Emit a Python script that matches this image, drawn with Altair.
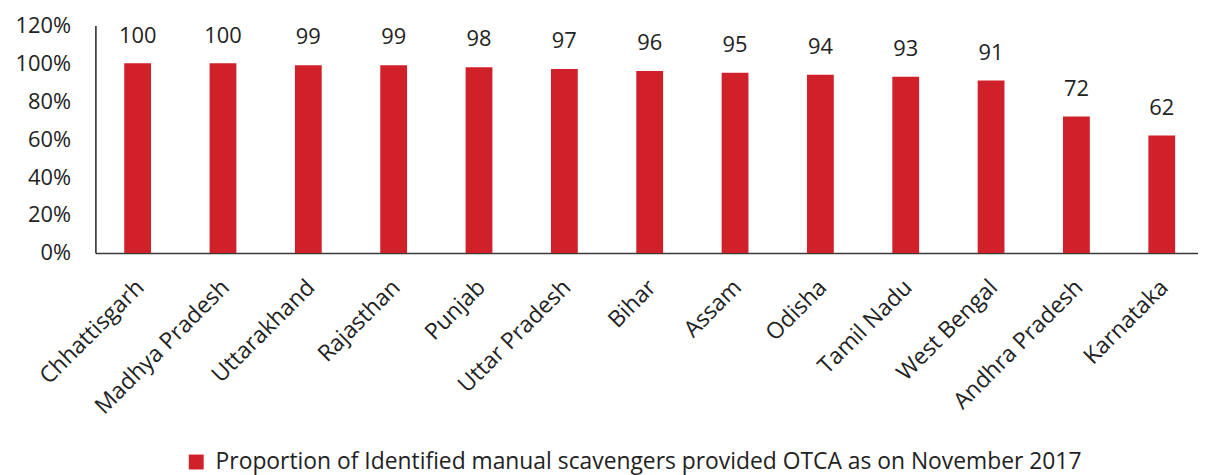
import altair as alt
import pandas as pd

states = ["Chhattisgarh", "Madhya Pradesh", "Uttarakhand", "Rajasthan", "Punjab",
          "Uttar Pradesh", "Bihar", "Assam", "Odisha", "Tamil Nadu", "West Bengal",
          "Andhra Pradesh", "Karnataka"]
values = [100, 100, 99, 99, 98, 97, 96, 95, 94, 93, 91, 72, 62]
series_name = "Proportion of Identified manual scavengers provided OTCA as on November 2017"

df = pd.DataFrame({"state": states, "value": [v / 100 for v in values], "label": [str(v) for v in values],
                   "series": series_name})

FONT = "Open Sans"
RED = "#D02029"

x = alt.X("state:N", sort=states, title=None,
          scale=alt.Scale(paddingInner=0.686, paddingOuter=0.3027, align=0.558),
          axis=alt.Axis(labelAngle=-45, labelAlign="right", labelBaseline="top", labelPadding=23,
                        labelOffset=-5, ticks=False, labelFontSize=23, labelColor="#222222",
                        labelFont=FONT, domainColor="#3a3a3a", domainWidth=1.5, grid=False,
                        labelLimit=0, labelOverlap=False))
y = alt.Y("value:Q", title=None,
          scale=alt.Scale(domain=[0, 1.2], nice=False),
          axis=alt.Axis(format=".0%", values=[0, 0.2, 0.4, 0.6, 0.8, 1.0, 1.2], ticks=False,
                        labelPadding=25, labelFontSize=22, labelColor="#222222", labelFont=FONT,
                        domainColor="#222222", domainWidth=1.5, grid=False, labelOverlap=False))

base = alt.Chart(df).encode(x=x, y=y)

bars = base.mark_bar().encode(
    color=alt.Color("series:N", scale=alt.Scale(domain=[series_name], range=[RED]),
                    legend=alt.Legend(title=None, orient="none", legendX=90, legendY=428,
                                      symbolType="square", symbolSize=225, symbolStrokeWidth=0,
                                      labelFontSize=23, labelFont=FONT, labelColor="#222222",
                                      labelLimit=0, symbolOpacity=1, labelOffset=8))
)

text = base.mark_text(dy=-28, fontSize=22, font=FONT, color="#222222").encode(text="label:N")

chart = (bars + text).properties(
    width=1110, height=229,
    autosize=alt.AutoSizeParams(type="none"),
    padding={"left": 88, "top": 16, "right": 0, "bottom": 222},
).configure_view(stroke=None).configure_axis(labelOverlap=False)

chart.save("out.html", embed_options={"renderer": "svg", "actions": False})
